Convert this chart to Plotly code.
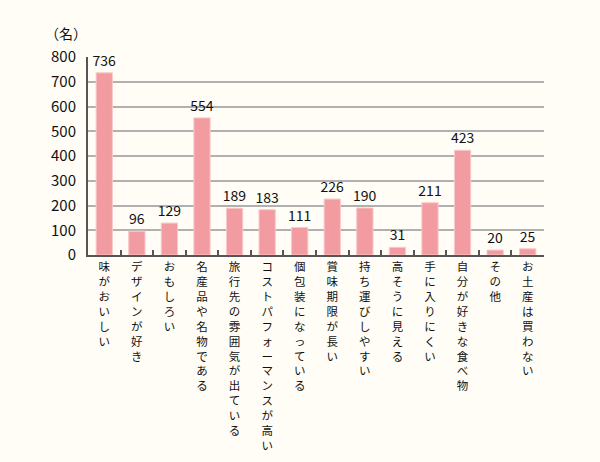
import plotly.graph_objects as go

categories = ["味がおいしい", "デザインが好き", "おもしろい", "名産品や名物である",
              "旅行先の雰囲気が出ている", "コストパフォーマンスが高い", "個包装になっている",
              "賞味期限が長い", "持ち運びしやすい", "高そうに見える", "手に入りにくい",
              "自分が好きな食べ物", "その他", "お土産は買わない"]
values = [736, 96, 129, 554, 189, 183, 111, 226, 190, 31, 211, 423, 20, 25]
y_ticks = [0, 100, 200, 300, 400, 500, 600, 700, 800]
unit_label = "（名）"

FONT = "Noto Sans CJK JP"
BG = "#FFFDF5"
vertical_labels = ["<br>".join(list(c)) for c in categories]

fig = go.Figure(go.Bar(
    x=categories, y=values,
    marker=dict(color="#F29CA2", line=dict(color="#F9C8CA", width=1)),
    text=[str(v) for v in values], textposition="outside",
    textfont=dict(family=FONT, size=14, color="#111111"),
    constraintext="none",
    cliponaxis=False,
))

fig.update_layout(
    width=600, height=462,
    paper_bgcolor=BG, plot_bgcolor=BG,
    margin=dict(l=88, r=56, t=57, b=207),
    bargap=0.5, showlegend=False,
    font=dict(family=FONT, color="#111111"),
    annotations=[dict(text=unit_label, x=-0.048, xref="paper", y=1.12, yref="paper",
                      xanchor="center", yanchor="middle", showarrow=False,
                      font=dict(family=FONT, size=14, color="#111111"))],
)
fig.update_xaxes(
    tickvals=categories, ticktext=vertical_labels, automargin=False,
    tickfont=dict(family=FONT, size=11.5, color="#111111"),
    tickangle=0, showline=True, linecolor="#555555", linewidth=2,
    ticks="inside", tickson="boundaries", ticklen=5, tickcolor="#555555", tickwidth=1.5,
    showgrid=False,
)
fig.update_yaxes(
    range=[0, 800], tickvals=y_ticks, automargin=False,
    tickfont=dict(family=FONT, size=15, color="#111111"),
    showline=True, linecolor="#555555", linewidth=2,
    showgrid=True, gridcolor="#B0B0B0", gridwidth=1.5,
    zeroline=False, ticks="", ticklabelstandoff=7,
)

fig.write_html("out.html", config={"displayModeBar": False},
               post_script="document.body.style.margin='0';document.body.style.background='" + BG + "';")
